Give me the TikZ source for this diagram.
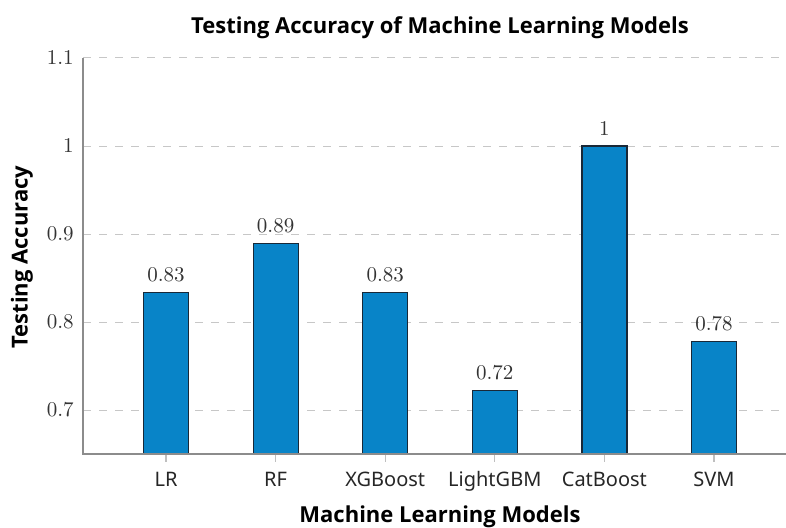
\documentclass[tikz,border=0pt]{standalone}
\usepackage{fontspec}
\newfontfamily\notosans{Noto Sans}
\newfontfamily\opensans{Open Sans}
\definecolor{barblue}{RGB}{8,132,200}
\definecolor{baredge}{RGB}{25,40,55}
\tikzset{
  bar/.style={fill=barblue,draw=baredge,line width=0.6pt},
  gridline/.style={black!22,dash pattern=on 4pt off 4pt,line width=0.5pt},
  axisline/.style={black!45,line width=0.6pt},
  numlabel/.style={font=\fontsize{10.5}{12}\selectfont,text=black!80,inner sep=0pt},
  namelabel/.style={font=\notosans\fontsize{10}{12}\selectfont,text=black!85,inner sep=0pt,anchor=base},
  axistitle/.style={font=\opensans\bfseries\fontsize{11}{13}\selectfont,inner sep=0pt}
}
\begin{document}
\begin{tikzpicture}[x=0.5pt,y=0.5pt]
\useasboundingbox (0,0) rectangle (786,527);
% titles
\node[axistitle,anchor=base] (title) at (440,494) {Testing Accuracy of Machine Learning Models};
\node[axistitle,anchor=base] (xtitle) at (440,5) {Machine Learning Models};
\node[axistitle,rotate=90] (ytitle) at (22,270) {Testing Accuracy};
% data part, y in accuracy units
\begin{scope}[shift={(0,-499)},y=440pt]
\foreach \v in {0.7,0.8,0.9,1,1.1}  {
\draw [gridline] (83,\v) -- (786,\v);
\node[numlabel,anchor=east] (ytick\v) at (74,\v) {\v};
}
\foreach \i/\name/\val/\txt in {1/LR/0.8333/0.83,2/RF/0.8889/0.89,3/XGBoost/0.8333/0.83,4/LightGBM/0.7222/0.72,5/CatBoost/1/1,6/SVM/0.7778/0.78}  {
\pgfmathsetmacro\cx{166+(\i-1)*109.6}
\draw [axisline,black!25] (\cx,0.65) -- ++(0,-4pt);
\draw [bar] (\cx-22.5,0.65) rectangle (\cx+22.5,\val);
\node[numlabel,anchor=base,yshift=5.5pt] (val\i) at (\cx,\val) {\txt};
\node[namelabel,yshift=-16pt] (name\i) at (\cx,0.65) {\name};
}
\draw [axisline] (83,1.1) -- (83,0.65) -- (786,0.65);
\end{scope}
\end{tikzpicture}
\end{document}
